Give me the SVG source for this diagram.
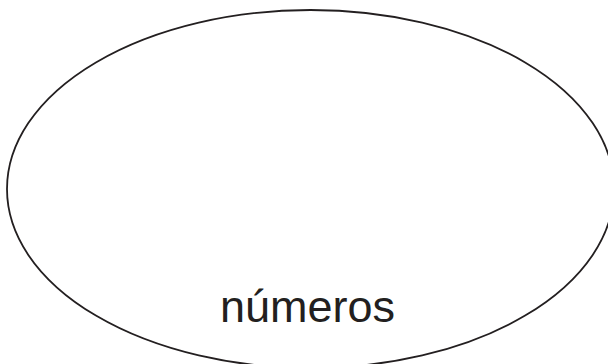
<svg xmlns="http://www.w3.org/2000/svg" width="608" height="364" viewBox="0 0 608 364">
  <style>
    .shape { fill: #ffffff; stroke: #231f20; stroke-width: 1.8; }
    .label { font-family: "Liberation Sans", Arial, sans-serif; font-size: 45px; fill: #231f20; text-anchor: middle; }
  </style>
  <rect x="0" y="0" width="608" height="364" fill="#ffffff"/>
  <g id="numeros">
    <ellipse class="shape" cx="310.5" cy="189" rx="303.5" ry="179"/>
    <text class="label" x="307.5" y="322">números</text>
  </g>
</svg>
